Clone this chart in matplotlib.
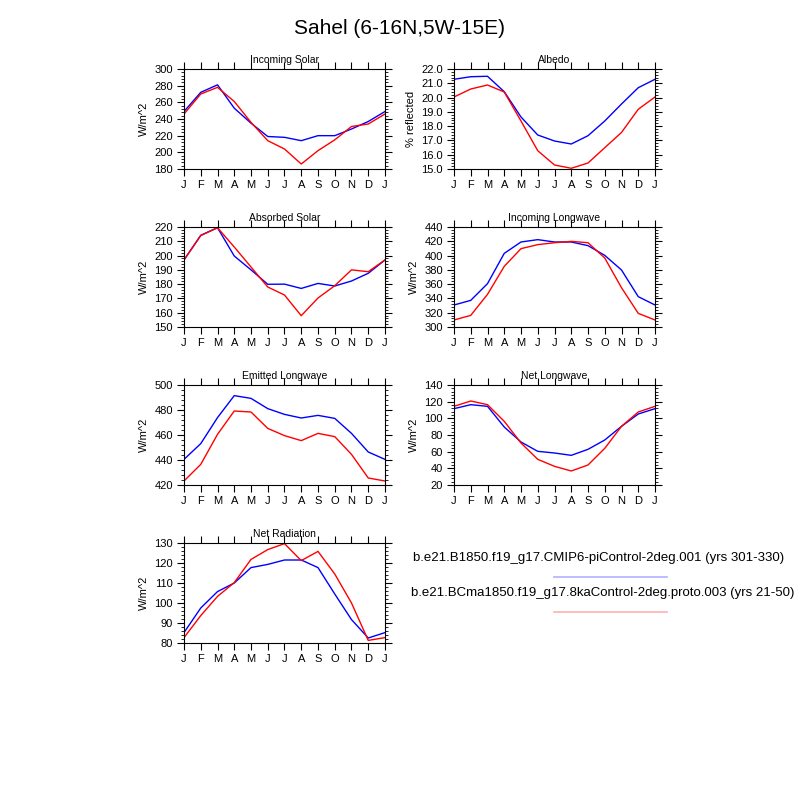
import numpy as np
import matplotlib
matplotlib.use("Agg")
import matplotlib.pyplot as plt
from matplotlib.lines import Line2D
from matplotlib.ticker import MultipleLocator

plt.rcParams["font.family"] = ["Liberation Sans", "DejaVu Sans"]

months = ["J", "F", "M", "A", "M", "J", "J", "A", "S", "O", "N", "D", "J"]

# monthly values Jan..Dec (the plot wraps back to Jan)
inc_solar_ctl = [249, 272, 281, 253, 235, 219, 218, 214, 220, 220, 228, 237]
inc_solar_8ka = [246, 270, 278, 261, 236, 214, 204, 186, 202, 215, 231, 234]

albedo_ctl = [21.28, 21.46, 21.49, 20.41, 18.64, 17.38, 16.96, 16.75, 17.33, 18.36, 19.55, 20.69]
albedo_8ka = [20.04, 20.60, 20.88, 20.39, 18.36, 16.28, 15.28, 15.05, 15.42, 16.49, 17.56, 19.18]

abs_solar_ctl = [196.9, 214.2, 219.5, 199.7, 190.0, 179.9, 180.0, 177.0, 180.5, 178.7, 182.2, 187.6]
abs_solar_8ka = [197.0, 214.0, 219.5, 206.0, 192.0, 178.0, 172.4, 157.9, 170.3, 178.9, 190.0, 188.7]

inc_lw_ctl = [330.8, 337.3, 360.7, 403.1, 419.0, 422.3, 419.0, 419.0, 413.9, 400.3, 379.8, 342.5]
inc_lw_8ka = [309.8, 316.3, 345.7, 384.9, 409.7, 415.3, 418.0, 419.9, 418.0, 396.6, 355.0, 319.1]

emit_lw_ctl = [440.5, 453.1, 473.9, 491.5, 489.3, 481.1, 476.5, 473.6, 475.7, 473.3, 461.3, 446.4]
emit_lw_8ka = [423.2, 436.5, 460.5, 479.2, 478.4, 465.3, 459.5, 455.5, 461.3, 458.7, 444.5, 425.6]

net_lw_ctl = [111.6, 116.4, 114.4, 89.6, 71.6, 60.4, 58.4, 55.6, 62.8, 74.0, 90.4, 105.2]
net_lw_8ka = [114.4, 120.8, 116.4, 96.4, 70.4, 50.8, 42.4, 36.8, 44.0, 64.0, 90.4, 107.6]

net_rad_ctl = [85.2, 97.5, 105.7, 110.0, 117.7, 119.3, 121.5, 121.5, 117.7, 104.5, 91.7, 82.5]
net_rad_8ka = [82.7, 93.7, 103.3, 110.2, 121.8, 126.7, 129.7, 121.2, 125.8, 114.5, 100.0, 81.3]

case_ctl = "b.e21.B1850.f19_g17.CMIP6-piControl-2deg.001 (yrs 301-330)"
case_8ka = "b.e21.BCma1850.f19_g17.8kaControl-2deg.proto.003 (yrs 21-50)"

# title, ylabel, ctl, 8ka, ylim, major step, minor step, tick format
panels = [
    ("Incoming Solar", "W/m^2", inc_solar_ctl, inc_solar_8ka, (180, 300), 20, 4, "%d"),
    ("Albedo", "% reflected", albedo_ctl, albedo_8ka, (15, 22), 1, 0.2, "%.1f"),
    ("Absorbed Solar", "W/m^2", abs_solar_ctl, abs_solar_8ka, (150, 220), 10, 2, "%d"),
    ("Incoming Longwave", "W/m^2", inc_lw_ctl, inc_lw_8ka, (300, 440), 20, 4, "%d"),
    ("Emitted Longwave", "W/m^2", emit_lw_ctl, emit_lw_8ka, (420, 500), 20, 4, "%d"),
    ("Net Longwave", "W/m^2", net_lw_ctl, net_lw_8ka, (20, 140), 20, 4, "%d"),
    ("Net Radiation", "W/m^2", net_rad_ctl, net_rad_8ka, (80, 130), 10, 2, "%d"),
]

fig = plt.figure(figsize=(8, 8), dpi=100)
fig.text(0.5, 0.965, "Sahel (6-16N,5W-15E)", ha="center", va="center", fontsize=15)

col_x = [184 / 800, 454 / 800]
row_top = [69, 227, 385, 543]
w, h = 201 / 800, 100 / 800

x = np.arange(13)
for i, (title, ylab, ctl, ka, ylim, major, minor, fmt) in enumerate(panels):
    r, c = divmod(i, 2)
    ax = fig.add_axes([col_x[c], 1 - (row_top[r] + 100) / 800, w, h])
    ax.plot(x, ctl + ctl[:1], color="blue", lw=1.0)
    ax.plot(x, ka + ka[:1], color="red", lw=1.0)
    ax.set_xlim(0, 12)
    ax.set_ylim(*ylim)
    ax.set_xticks(x)
    ax.set_xticklabels(months)
    ax.yaxis.set_major_locator(MultipleLocator(major))
    ax.yaxis.set_minor_locator(MultipleLocator(minor))
    ax.yaxis.set_major_formatter(matplotlib.ticker.FormatStrFormatter(fmt))
    ax.tick_params(axis="both", which="major", direction="out", length=5, width=0.8,
                   labelsize=8, top=True, right=True, pad=3)
    ax.tick_params(axis="y", which="minor", direction="out", length=2.5, width=0.6,
                   left=True, right=True)
    ax.tick_params(axis="x", which="minor", bottom=False, top=False)
    for s in ax.spines.values():
        s.set_linewidth(0.8)
    ax.set_title(title, fontsize=7.5, pad=4)
    ax.set_ylabel(ylab, fontsize=8, labelpad=4)

# legend block, text above line like the original
fig.text(413 / 800, 1 - 558 / 800, case_ctl, ha="left", va="center", fontsize=9.5)
fig.add_artist(Line2D([554 / 800, 667 / 800], [1 - 577 / 800] * 2, color="#b0b0ff", lw=1.2))
fig.text(411 / 800, 1 - 593 / 800, case_8ka, ha="left", va="center", fontsize=9.5)
fig.add_artist(Line2D([554 / 800, 667 / 800], [1 - 612 / 800] * 2, color="#ffb0b0", lw=1.2))

plt.savefig("out.png", dpi=100)
